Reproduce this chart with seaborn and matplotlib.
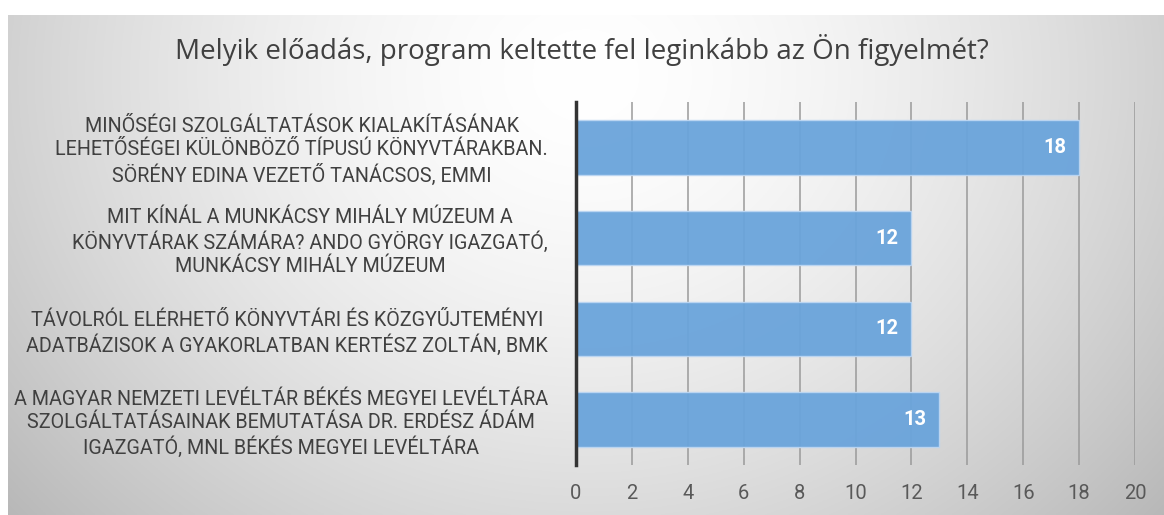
import matplotlib
matplotlib.use("Agg")
import matplotlib.pyplot as plt
import numpy as np
import pandas as pd
import seaborn as sns

# Chart data
labels = [
    "MINŐSÉGI SZOLGÁLTATÁSOK KIALAKÍTÁSÁNAK\nLEHETŐSÉGEI KÜLÖNBÖZŐ TÍPUSÚ KÖNYVTÁRAKBAN.\nSÖRÉNY EDINA VEZETŐ TANÁCSOS, EMMI",
    "MIT KÍNÁL A MUNKÁCSY MIHÁLY MÚZEUM A\nKÖNYVTÁRAK SZÁMÁRA? ANDO GYÖRGY IGAZGATÓ,\nMUNKÁCSY MIHÁLY MÚZEUM",
    "TÁVOLRÓL ELÉRHETŐ KÖNYVTÁRI ÉS KÖZGYŰJTEMÉNYI\nADATBÁZISOK A GYAKORLATBAN KERTÉSZ ZOLTÁN, BMK",
    "A MAGYAR NEMZETI LEVÉLTÁR BÉKÉS MEGYEI LEVÉLTÁRA\nSZOLGÁLTATÁSAINAK BEMUTATÁSA DR. ERDÉSZ ÁDÁM\nIGAZGATÓ, MNL BÉKÉS MEGYEI LEVÉLTÁRA",
]
values = [18, 12, 12, 13]
xticks = [0, 2, 4, 6, 8, 10, 12, 14, 16, 18, 20]
title = "Melyik előadás, program keltette fel leginkább az Ön figyelmét?"

df = pd.DataFrame({"label": labels, "value": values})

sns.set_theme(style="white")
FONT = ['Roboto', 'DejaVu Sans']
plt.rcParams['font.family'] = FONT

fig = plt.figure(figsize=(11.64, 5.15), dpi=100)

# gradient background (white top strip and left strip like the screenshot)
bg = fig.add_axes([8 / 1164, 0, 1 - 8 / 1164, 1 - 15 / 515], zorder=-2)
h, w = 300, 600
yy, xx = np.mgrid[0:h, 0:w]
xn = (xx / (w - 1) - 0.5) / 0.62
yn = (yy / (h - 1) - 0.12) / 1.25
r = np.sqrt(xn ** 2 + yn ** 2)
shade = 1.0 - 0.25 * np.clip(r, 0, 1.2) ** 1.6
bg.imshow(np.dstack([shade] * 3), aspect='auto', extent=[0, 1, 0, 1], origin='upper')
bg.set_axis_off()

ax = fig.add_axes([576 / 1164, 1 - 465 / 515, (1135 - 576) / 1164, (465 - 102) / 515])
ax.set_facecolor('none')

sns.barplot(data=df, x="value", y="label", orient="h", ax=ax, color="#6aa4db",
            saturation=1, width=0.6, alpha=0.95, edgecolor="#bcd6f2",
            linewidth=1, zorder=3)

ax.set_xlim(0, 20)
ax.set_ylim(3.5, -0.5)
ax.set_xticks(xticks)
ax.set_xticklabels([str(t) for t in xticks], color="#595959", fontsize=14.5, family=FONT)
ax.tick_params(axis='x', length=0, pad=14)
ax.tick_params(axis='y', length=0, pad=20)
for t in ax.get_yticklabels():
    t.set_multialignment('center')
    t.set_linespacing(1.25)
    t.set_fontsize(14.2)
    t.set_color('#404040')
ax.set_xlabel("")
ax.set_ylabel("")

ax.grid(axis='x', color="#9a9a9a", linewidth=1.1, zorder=1)
ax.set_axisbelow(True)
for s in ['top', 'right', 'bottom']:
    ax.spines[s].set_visible(False)
ax.spines['left'].set_color('#333333')
ax.spines['left'].set_linewidth(2.5)
ax.spines['left'].set_zorder(4)

# value labels inside bar ends
for i, v in enumerate(values):
    ax.text(v - 0.45, i, str(v), ha='right', va='center', color='white',
            fontsize=14.5, fontweight='bold', zorder=5, family=FONT)

fig.text(582 / 1164, 1 - 50 / 515, title, ha='center', va='center',
         fontsize=20, color='#404040', family=['Open Sans', 'DejaVu Sans'])

fig.savefig("out.png", dpi=100)
